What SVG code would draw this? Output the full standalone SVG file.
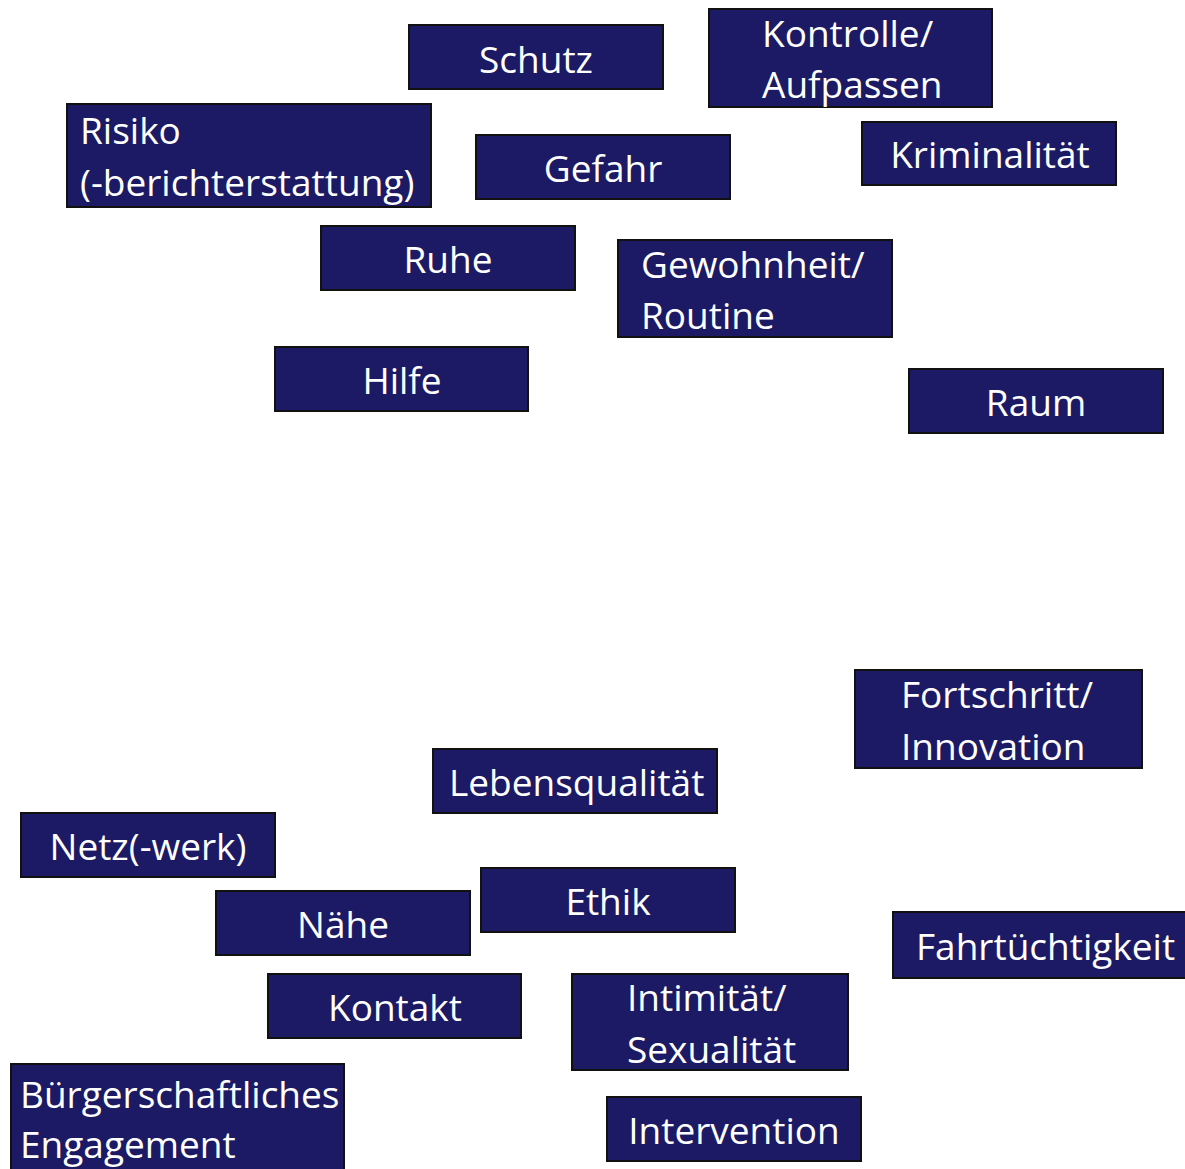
<svg xmlns="http://www.w3.org/2000/svg" width="1185" height="1169" viewBox="0 0 1185 1169">
<style>
.b{fill:#1c1a64;stroke:#111;stroke-width:2}
.t{fill:#fff;font-family:"Open Sans",Lato,sans-serif;font-size:37px}
.c{text-anchor:middle}
</style>
<rect width="1185" height="1169" fill="#fff"/>
<g id="schutz"><rect class="b" x="409" y="25" width="254" height="64"/><text class="t c" x="536" y="73">Schutz</text></g>
<g id="kontrolle"><rect class="b" x="709" y="9" width="283" height="98"/><text class="t" x="762" y="47">Kontrolle/</text><text class="t" x="762" y="98">Aufpassen</text></g>
<g id="risiko"><rect class="b" x="67" y="104" width="364" height="103"/><text class="t" x="80" y="144">Risiko</text><text class="t" x="80" y="196">(-berichterstattung)</text></g>
<g id="gefahr"><rect class="b" x="476" y="135" width="254" height="64"/><text class="t c" x="603" y="182">Gefahr</text></g>
<g id="kriminalitaet"><rect class="b" x="862" y="122" width="254" height="63"/><text class="t c" x="990" y="168">Kriminalität</text></g>
<g id="ruhe"><rect class="b" x="321" y="226" width="254" height="64"/><text class="t c" x="448" y="273">Ruhe</text></g>
<g id="gewohnheit"><rect class="b" x="618" y="240" width="274" height="97"/><text class="t" x="641" y="278">Gewohnheit/</text><text class="t" x="641" y="329">Routine</text></g>
<g id="hilfe"><rect class="b" x="275" y="347" width="253" height="64"/><text class="t c" x="402" y="394">Hilfe</text></g>
<g id="raum"><rect class="b" x="909" y="369" width="254" height="64"/><text class="t c" x="1036" y="416">Raum</text></g>
<g id="fortschritt"><rect class="b" x="855" y="670" width="287" height="98"/><text class="t" x="901" y="708">Fortschritt/</text><text class="t" x="901" y="760">Innovation</text></g>
<g id="lebensqualitaet"><rect class="b" x="433" y="749" width="284" height="64"/><text class="t" x="449" y="796">Lebensqualität</text></g>
<g id="netz"><rect class="b" x="21" y="813" width="254" height="64"/><text class="t c" x="148" y="860">Netz(-werk)</text></g>
<g id="naehe"><rect class="b" x="216" y="891" width="254" height="64"/><text class="t c" x="343" y="938">Nähe</text></g>
<g id="ethik"><rect class="b" x="481" y="868" width="254" height="64"/><text class="t c" x="608" y="915">Ethik</text></g>
<g id="fahrtuechtigkeit"><rect class="b" x="893" y="912" width="300" height="66"/><text class="t" x="916" y="960">Fahrtüchtigkeit</text></g>
<g id="kontakt"><rect class="b" x="268" y="974" width="253" height="64"/><text class="t c" x="395" y="1021">Kontakt</text></g>
<g id="intimitaet"><rect class="b" x="572" y="974" width="276" height="96"/><text class="t" x="627" y="1011">Intimität/</text><text class="t" x="627" y="1063">Sexualität</text></g>
<g id="intervention"><rect class="b" x="607" y="1097" width="254" height="64"/><text class="t c" x="734" y="1144">Intervention</text></g>
<g id="buergerschaft"><rect class="b" x="11" y="1064" width="333" height="110"/><text class="t" x="20" y="1108">Bürgerschaftliches</text><text class="t" x="20" y="1158">Engagement</text></g>
<g id="connectors"/>
</svg>
